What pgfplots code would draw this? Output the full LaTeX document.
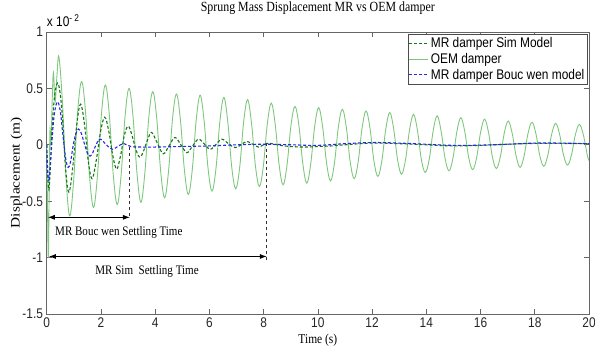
\documentclass[border=0pt]{standalone}
\usepackage{fontspec}
\setmainfont{Liberation Serif}[FakeStretch=0.85]
\newfontfamily\arial{Liberation Sans}[FakeStretch=0.85]
\newfontfamily\timeswide{Liberation Serif}[FakeStretch=1.18]
\usepackage{pgfplots}
\pgfplotsset{compat=1.18}
\usetikzlibrary{calc,arrows.meta}
\definecolor{oemgreen}{RGB}{125,200,125}
\definecolor{simgreen}{RGB}{20,120,20}
\definecolor{bwblue}{RGB}{40,40,235}
\begin{document}
\begin{tikzpicture}
\begin{axis}[
 name=ax,
 scale only axis, width=542.3pt, height=282pt,
 xmin=0, xmax=20, ymin=-1.5, ymax=1,
 xtick={0,2,...,20}, xticklabels={0,2,4,6,8,10,12,14,16,18,20},
 ytick={-1.5,-1,-0.5,0,0.5,1}, yticklabels={-1.5,-1,-0.5,0,0.5,1},
 tick align=inside, major tick length=5pt,
 axis line style={black!60, line width=0.6pt},
 every tick/.style={black!60, line width=0.6pt},
 tick label style={font=\arial\fontsize{14}{14}\selectfont, text=black!85},
 yticklabel style={inner xsep=1pt, xshift=-2.5pt},
 xticklabel style={inner ysep=1pt, yshift=-2.5pt},
 title={Sprung Mass Displacement MR vs OEM damper},
 title style={font=\fontsize{14}{14}\selectfont, at={(axis description cs:0.5,1.05)}, anchor=base},
 xlabel={Time (s)},
 xlabel style={font=\fontsize{13.5}{13.5}\selectfont, at={(axis description cs:0.5,-0.103)}, anchor=base},
 ylabel={Displacement (m)},
 every axis y label/.style={font=\timeswide\fontsize{13}{13}\selectfont, at={(axis description cs:-0.05,0.5)}, anchor=base, rotate=90},
 legend style={at={(axis description cs:1,1)}, anchor=north east, xshift=-1.5pt, yshift=-2pt,
   draw=black!70, font=\arial\fontsize{14}{14}\selectfont, inner xsep=1pt, inner ysep=1.5pt,
   row sep=0pt, nodes={inner sep=2pt}},
 legend cell align=left,
 legend image code/.code={\draw[#1] (0pt,0pt) -- (19pt,0pt);},
 clip=true,
]
\addlegendimage{simgreen, densely dashed, line width=1.1pt}
\addlegendentry{MR damper Sim Model}
\addplot[oemgreen, line width=0.9pt, smooth, tension=0.6] coordinates {
(0,0) (0.03,-0.55) (0.06,-1.0) (0.09,-0.45) (0.12,0.13) (0.16,0.02) (0.21,0.45) (0.25,0.64)
(0.31,0.38) (0.38,0.62) (0.45,0.78) (0.58,0.38) (0.72,-0.32) (0.853,-0.63)
(0.999,-0.30) (1.144,0.30) (1.290,0.56) (1.436,0.28) (1.581,-0.28) (1.727,-0.555)
(1.873,-0.27) (2.018,0.27) (2.164,0.53) (2.310,0.265) (2.455,-0.265) (2.601,-0.53)
(2.747,-0.26) (2.892,0.26) (3.038,0.50) (3.184,0.25) (3.329,-0.25) (3.475,-0.51)
(3.621,-0.245) (3.766,0.245) (3.912,0.47) (4.058,0.235) (4.203,-0.235) (4.349,-0.47)
(4.495,-0.23) (4.640,0.23) (4.786,0.45) (4.932,0.22) (5.077,-0.22) (5.223,-0.44)
(5.369,-0.22) (5.514,0.22) (5.660,0.44) (5.806,0.21) (5.951,-0.21) (6.097,-0.41)
(6.243,-0.21) (6.388,0.21) (6.534,0.42) (6.680,0.20) (6.825,-0.20) (6.971,-0.39)
(7.117,-0.20) (7.262,0.20) (7.408,0.40) (7.554,0.19) (7.699,-0.19) (7.845,-0.37)
(7.991,-0.185) (8.136,0.185) (8.282,0.37) (8.428,0.18) (8.573,-0.18) (8.719,-0.355)
(8.865,-0.175) (9.010,0.175) (9.156,0.34) (9.302,0.17) (9.447,-0.17) (9.593,-0.34)
(9.739,-0.165) (9.884,0.165) (10.030,0.33) (10.176,0.16) (10.321,-0.16) (10.467,-0.32)
(10.613,-0.16) (10.758,0.16) (10.904,0.315) (11.050,0.155) (11.195,-0.155) (11.341,-0.30)
(11.487,-0.15) (11.632,0.15) (11.778,0.30) (11.924,0.145) (12.069,-0.145) (12.215,-0.28)
(12.361,-0.14) (12.506,0.14) (12.652,0.286) (12.798,0.137) (12.943,-0.137) (13.089,-0.26)
(13.235,-0.13) (13.380,0.13) (13.526,0.27) (13.672,0.13) (13.817,-0.13) (13.963,-0.245)
(14.109,-0.125) (14.254,0.125) (14.400,0.257) (14.546,0.12) (14.691,-0.12) (14.837,-0.23)
(14.983,-0.118) (15.128,0.118) (15.274,0.24) (15.420,0.115) (15.565,-0.115) (15.711,-0.22)
(15.857,-0.112) (16.002,0.112) (16.148,0.227) (16.294,0.11) (16.439,-0.11) (16.585,-0.21)
(16.731,-0.105) (16.876,0.105) (17.022,0.21) (17.168,0.10) (17.313,-0.10) (17.459,-0.20)
(17.605,-0.10) (17.750,0.10) (17.896,0.20) (18.042,0.098) (18.187,-0.098) (18.333,-0.19)
(18.479,-0.095) (18.624,0.095) (18.770,0.19) (18.916,0.092) (19.061,-0.092) (19.207,-0.18)
(19.353,-0.09) (19.498,0.09) (19.644,0.18) (19.790,0.09) (19.935,-0.09) (20.0,-0.14)
};
\addlegendentry{OEM damper}
\addplot[simgreen, densely dashed, line width=1.1pt, smooth, tension=0.6, forget plot] coordinates {
(0,0) (0.04,-0.28) (0.08,-0.40) (0.13,-0.22) (0.2,0.15) (0.3,0.45) (0.43,0.54)
(0.57,0.28) (0.70,-0.22) (0.82,-0.42) (0.96,-0.2) (1.11,0.18) (1.25,0.36)
(1.40,0.17) (1.53,-0.14) (1.67,-0.30) (1.82,-0.15) (1.99,0.12) (2.14,0.245)
(2.29,0.12) (2.44,-0.10) (2.58,-0.215) (2.72,-0.10) (2.87,0.09) (3.01,0.165)
(3.15,0.08) (3.30,-0.05) (3.44,-0.11) (3.58,-0.05) (3.73,0.05) (3.87,0.11)
(4.08,0.015) (4.30,-0.08) (4.52,-0.005) (4.73,0.065) (4.95,0.0) (5.17,-0.07)
(5.38,-0.01) (5.6,0.05) (5.82,0.005) (6.03,-0.04) (6.25,0.005) (6.46,0.05)
(6.70,0.01) (6.95,-0.025) (7.17,0.0) (7.38,0.03) (7.60,0.005) (7.81,-0.02)
(8.0,0.0) (8.18,0.015) (8.6,-0.005) (9.0,-0.015) (9.5,-0.02) (10.0,-0.015)
(10.5,-0.01) (11.0,0.0) (12.0,0.015) (13.0,0.01) (14.0,0.0) (15.0,-0.01)
(16.0,-0.005) (17.0,0.005) (18.0,0.012) (19.0,0.012) (20.0,0.01)
};
\addplot[bwblue, densely dashed, line width=1.1pt, smooth, tension=0.6] coordinates {
(0,0) (0.03,-0.2) (0.06,-0.3) (0.1,-0.28) (0.17,-0.05) (0.27,0.25) (0.39,0.38)
(0.50,0.3) (0.60,0.08) (0.70,-0.12) (0.79,-0.2) (0.88,-0.15) (0.98,0.0)
(1.08,0.1) (1.17,0.14) (1.28,0.1) (1.40,0.0) (1.50,-0.07) (1.6,-0.1)
(1.7,-0.07) (1.8,-0.01) (1.97,0.05) (2.2,0.0) (2.42,-0.04) (2.65,-0.01)
(2.85,0.01) (3.1,-0.015) (3.5,-0.02) (4.0,-0.02) (5.0,-0.015) (6.0,-0.01)
(7.0,0.0) (8.0,0.005) (9.0,0.0) (10.0,-0.005) (11.0,0.01) (12.0,0.02)
(13.0,0.015) (14.0,0.005) (15.0,-0.005) (16.0,-0.003) (17.0,0.005) (18.0,0.015)
(19.0,0.015) (20.0,0.01)
};
\addlegendentry{MR damper Bouc wen model}
\draw[black!80, dashed, line width=0.9pt] (axis cs:3.07,-0.02) -- (axis cs:3.07,-0.65);
\draw[black!80, dashed, line width=0.9pt] (axis cs:8.12,0.02) -- (axis cs:8.12,-1.03);
\draw[black, line width=0.9pt, {Latex[length=7pt,width=5pt]}-{Latex[length=7pt,width=5pt]}] (axis cs:0.04,-0.643) -- (axis cs:3.07,-0.643);
\draw[black, line width=0.9pt, {Latex[length=7pt,width=5pt]}-{Latex[length=7pt,width=5pt]}] (axis cs:0.08,-0.99) -- (axis cs:8.12,-0.99);
\node[font=\fontsize{13}{13}\selectfont, inner sep=0pt] at (axis cs:2.66,-0.78) {MR Bouc wen Settling Time};
\node[font=\fontsize{13}{13}\selectfont, inner sep=0pt] at (axis cs:3.7,-1.12) {MR Sim\ \ Settling Time};
\end{axis}
\node[anchor=base west, font=\arial\fontsize{14}{14}\selectfont, inner sep=0pt] at ($(ax.north west)+(0pt,5pt)$) {x 10\textsuperscript{- 2}};
\pgfresetboundingbox
\path[use as bounding box] ($(ax.south west)+(-46.7pt,-35pt)$) rectangle ($(ax.north east)+(6pt,32pt)$);
\end{tikzpicture}
\end{document}
